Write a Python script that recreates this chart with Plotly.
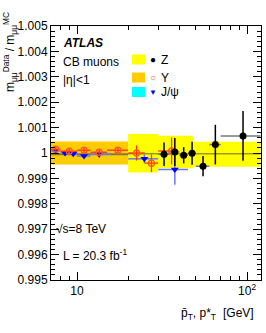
import math
import plotly.graph_objects as go

# ---------------- data ----------------
# J/psi points
jpsi_pt = [7.45, 8.5, 9.5, 11.0, 13.5, 24.9, 37.6]
jpsi_bin_lo = [7, 8, 9, 10, 12, 20, 30]
jpsi_bin_hi = [8, 9, 10, 12, 16, 30, 45]
jpsi_val = [1.00008, 1.00000, 0.99997, 0.99988, 0.99995, 0.99977, 0.99935]
jpsi_err = [0.00008, 0.00006, 0.00006, 0.00006, 0.00008, 0.00017, 0.00060]

# Upsilon points
ups_pt = [7.5, 9.0, 11.0, 13.5, 17.4, 22.4, 27.4, 36.0]
ups_bin_lo = [7, 8, 10, 12, 15, 20, 25, 30]
ups_bin_hi = [8, 10, 12, 15, 20, 25, 30, 37]
ups_val = [1.00015, 1.00007, 1.00011, 1.00003, 1.00011, 1.00000, 0.99960, 1.00008]
ups_err = [0.00010, 0.00010, 0.00010, 0.00010, 0.00010, 0.00030, 0.00035, 0.00053]

# Z points
z_pt = [32.5, 37.6, 42.4, 47.5, 55.1, 65.1, 94.7]
z_bin_lo = [30, 35, 40, 45, 50, 60, 70]
z_bin_hi = [35, 40, 45, 50, 60, 70, 120]
z_val = [0.99995, 1.00004, 0.99991, 0.99999, 0.99948, 1.00033, 1.00067]
z_err = [0.00046, 0.00055, 0.00032, 0.00045, 0.00040, 0.00078, 0.00098]

# systematic bands
jpsi_band_edges = [7, 20]
jpsi_band_lo = [0.99957]
jpsi_band_hi = [1.00043]
ups_band_edges = [7, 20]
ups_band_lo = [0.99955]
ups_band_hi = [1.00045]
z_band_edges = [20, 30, 48, 120]
z_band_lo = [0.99923, 0.99940, 0.99946]
z_band_hi = [1.00075, 1.00068, 1.00044]

# band central lines
low_center_x = [7, 20]
low_center_y = [0.99995, 0.99995]
z_center_x = [20, 120]
z_center_y = [0.99997, 0.99997]

y_tick_vals = [0.995, 0.996, 0.997, 0.998, 0.999, 1.0, 1.001, 1.002, 1.003, 1.004, 1.005]
y_tick_text = ["0.995", "0.996", "0.997", "0.998", "0.999", "1", "1.001", "1.002", "1.003", "1.004", "1.005"]
x_tick_vals = [10, 100]
x_tick_text = ["10", "10<sup>2</sup>"]
x_minor_vals = [8, 9, 20, 30, 40, 50, 60, 70, 80, 90]

FONT = "Liberation Sans, Arial, sans-serif"


def band_xy(edges, lo, hi):
    xs, ys = [], []
    for i in range(len(hi)):
        xs += [edges[i], edges[i + 1]]
        ys += [hi[i], hi[i]]
    for i in reversed(range(len(lo))):
        xs += [edges[i + 1], edges[i]]
        ys += [lo[i], lo[i]]
    xs.append(xs[0])
    ys.append(ys[0])
    return xs, ys


fig = go.Figure()

for edges, lo, hi, col in [
    (jpsi_band_edges, jpsi_band_lo, jpsi_band_hi, "#00ffff"),
    (ups_band_edges, ups_band_lo, ups_band_hi, "#ffcc00"),
    (z_band_edges, z_band_lo, z_band_hi, "#ffff00"),
]:
    bx, by = band_xy(edges, lo, hi)
    fig.add_trace(go.Scatter(x=bx, y=by, fill="toself", fillcolor=col,
                             mode="lines", line=dict(width=0), hoverinfo="skip",
                             showlegend=False))

fig.add_trace(go.Scatter(x=low_center_x, y=low_center_y, mode="lines",
                         line=dict(color="rgba(90,90,90,0.75)", width=2),
                         showlegend=False, hoverinfo="skip"))
fig.add_trace(go.Scatter(x=z_center_x, y=z_center_y, mode="lines",
                         line=dict(color="rgba(90,90,40,0.6)", width=1.5),
                         showlegend=False, hoverinfo="skip"))


def xerr(pt, lo, hi):
    plus = [h - p for p, h in zip(pt, hi)]
    minus = [p - l for p, l in zip(pt, lo)]
    return plus, minus


jp, jm = xerr(jpsi_pt, jpsi_bin_lo, jpsi_bin_hi)
fig.add_trace(go.Scatter(
    x=jpsi_pt, y=jpsi_val, mode="markers",
    marker=dict(symbol="triangle-down", size=7, color="#0000ff"),
    error_y=dict(type="data", array=jpsi_err, color="#6677ff", thickness=1.5, width=0),
    error_x=dict(type="data", array=jp, arrayminus=jm, color="#6677ff", thickness=1.5, width=0),
    showlegend=False))

up, um = xerr(ups_pt, ups_bin_lo, ups_bin_hi)
fig.add_trace(go.Scatter(
    x=ups_pt, y=ups_val, mode="markers",
    marker=dict(symbol="circle-open", size=6, color="#ff5533", line=dict(width=1.3)),
    error_y=dict(type="data", array=ups_err, color="#ff3300", thickness=1.3, width=0),
    error_x=dict(type="data", array=up, arrayminus=um, color="#ff3300", thickness=1.3, width=0),
    showlegend=False))

zp, zm = xerr(z_pt, z_bin_lo, z_bin_hi)
fig.add_trace(go.Scatter(
    x=z_pt, y=z_val, mode="markers",
    marker=dict(symbol="circle", size=7, color="black"),
    error_y=dict(type="data", array=z_err, color="black", thickness=1.5, width=0),
    error_x=dict(type="data", array=zp, arrayminus=zm, color="#777777", thickness=1.5, width=0),
    showlegend=False))

# ---------------- layout ----------------
L, R, T, B = 51, 5, 26, 53
W, H = 266, 333
pw, ph = W - L - R, H - T - B


def px(xp):
    return (xp - L) / pw


def py(yp):
    return (H - B - yp) / ph


annots = []


def text(x, y, s, size=12, xanchor="left", color="black", **kw):
    annots.append(dict(x=px(x), y=py(y), xref="paper", yref="paper", text=s,
                       showarrow=False, xanchor=xanchor, yanchor="middle",
                       font=dict(family=FONT, size=size, color=color), **kw))


text(61, 43, "<b><i>ATLAS</i></b>", 12)
text(61, 62, "CB muons", 12)
text(61, 80, "|η|<1", 12)
text(54, 229, "√s=8 TeV", 12)
text(61, 255, "L = 20.3 fb<sup>-1</sup>", 12)

# legend
leg_rows = [(59.5, "#ffff00", "●", "black", 10, "Z"),
            (77.5, "#ffcc00", "○", "#ff6655", 10, "Υ"),
            (92, "#00ffff", "▼", "#0000ff", 8, "J/ψ")]
shapes = []
for yy, col, sym, scol, ssize, lab in leg_rows:
    shapes.append(dict(type="rect", xref="paper", yref="paper",
                       x0=px(132), x1=px(145), y0=py(yy + 5), y1=py(yy - 5),
                       fillcolor=col, line=dict(width=0)))
    text(153, yy, sym, ssize, xanchor="center", color=scol)
    text(159, yy, lab, 12)

# axis titles
annots.append(dict(x=px(10), y=py(52), xref="paper", yref="paper",
                   text="m<sub>μμ</sub><sup>Data</sup> / m<sub>μμ</sub><sup>MC</sup>",
                   showarrow=False, textangle=-90, xanchor="center", yanchor="middle",
                   font=dict(family=FONT, size=12, color="black")))
text(256, 313, "[GeV]", 12, xanchor="right")
text(218, 314, "p̄<sub>T</sub>, p*<sub>T</sub>", 12, xanchor="right")

fig.update_layout(
    width=W, height=H,
    margin=dict(l=L, r=R, t=T, b=B, autoexpand=False),
    paper_bgcolor="white", plot_bgcolor="white",
    showlegend=False,
    annotations=annots, shapes=shapes,
    font=dict(family=FONT, size=12, color="black"),
)
fig.update_xaxes(
    type="log", range=[math.log10(7.03), math.log10(120.8)],
    tickmode="array", tickvals=x_tick_vals, ticktext=x_tick_text,
    ticks="inside", ticklen=8, tickcolor="black", tickwidth=1,
    minor=dict(tickmode="array", tickvals=x_minor_vals, ticks="inside", ticklen=4,
               tickcolor="black", showgrid=False),
    showline=True, linecolor="black", linewidth=1, mirror="allticks",
    showgrid=False, zeroline=False,
    tickfont=dict(family=FONT, size=12, color="black"),
)
fig.update_yaxes(
    range=[0.995, 1.005],
    tickmode="array", tickvals=y_tick_vals, ticktext=y_tick_text,
    ticks="inside", ticklen=8, tickcolor="black", tickwidth=1,
    minor=dict(dtick=0.0002, tick0=0.995, ticks="inside", ticklen=4,
               tickcolor="black", showgrid=False),
    showline=True, linecolor="black", linewidth=1, mirror="allticks",
    showgrid=False, zeroline=False,
    tickfont=dict(family=FONT, size=12, color="black"),
)

fig.write_html(
    "out.html",
    config={"displayModeBar": False, "staticPlot": True},
    post_script=(
        "document.body.style.margin='0';"
        "var d=document.getElementsByClassName('plotly-graph-div')[0];"
        "d.style.position='absolute';d.style.left='0px';d.style.top='0px';"
        "window.scrollTo(0,0);"
    ),
)
